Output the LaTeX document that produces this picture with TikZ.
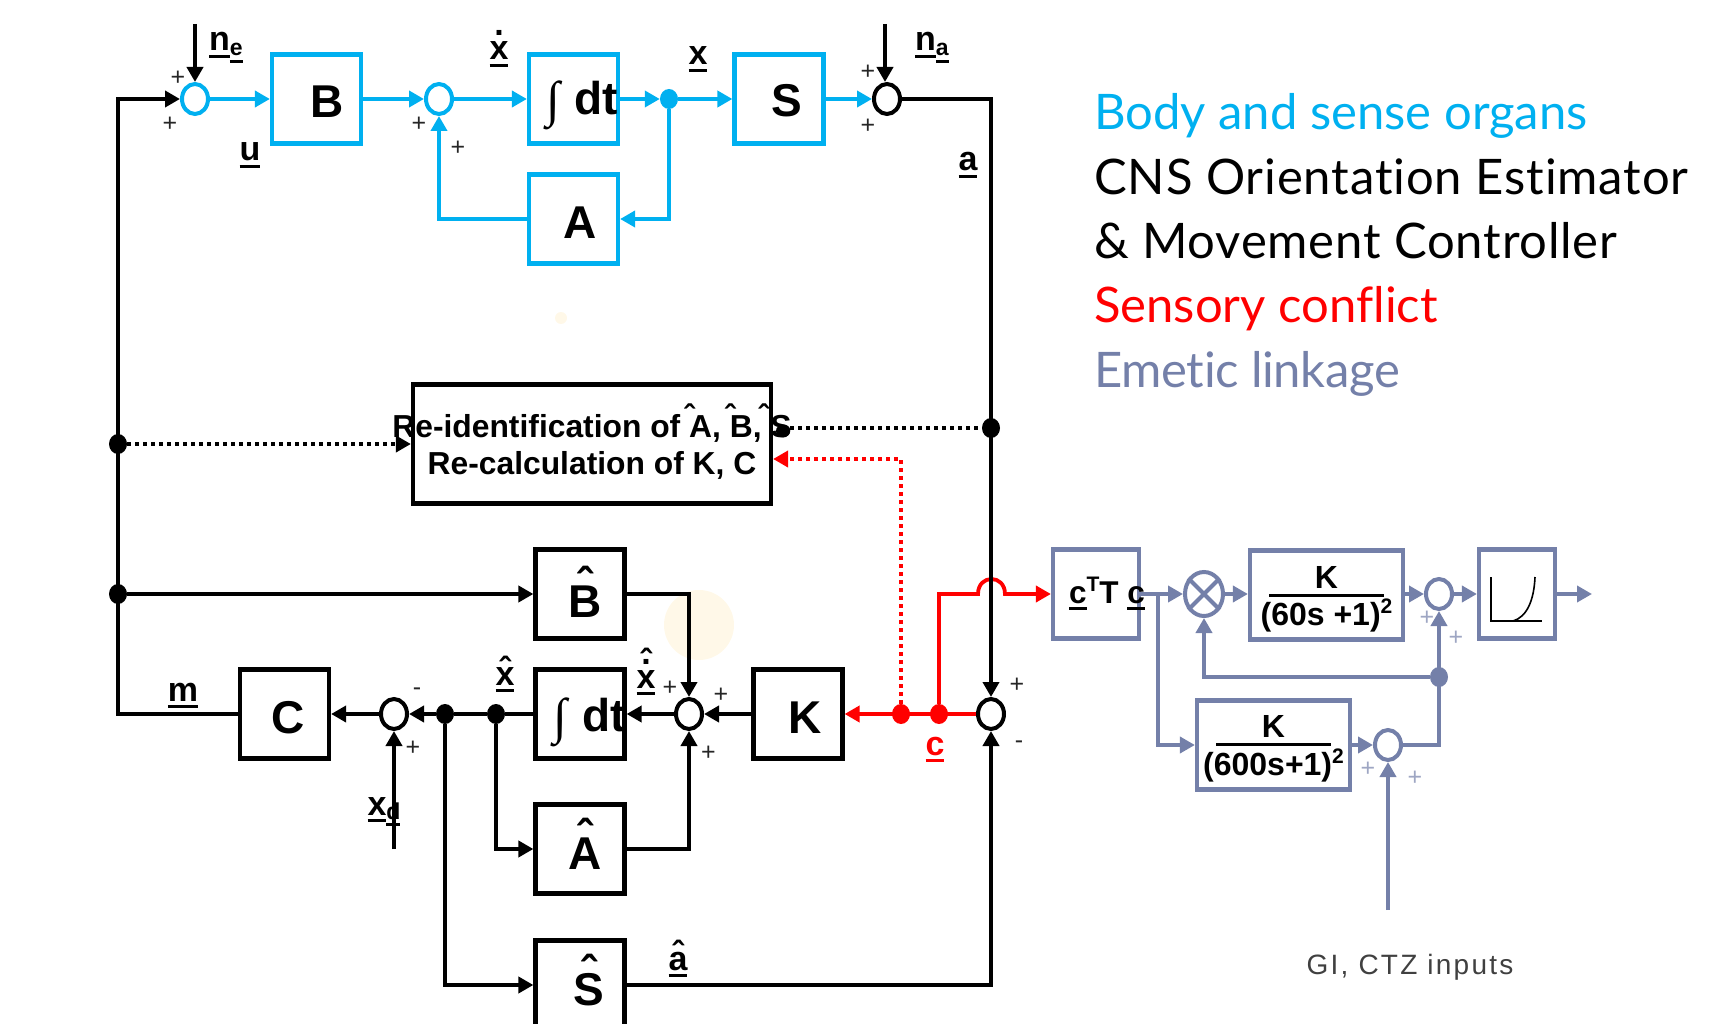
\documentclass[tikz,border=0pt]{standalone}
\usepackage{fontspec}
\setmainfont{Liberation Sans}
\newfontfamily\legendfont[Ligatures=NoCommon]{Lato}
\newfontfamily\intfont{Liberation Serif}
\usetikzlibrary{arrows.meta,shapes.geometric}
\definecolor{bodyblue}{HTML}{00B0F0}
\definecolor{emetic}{HTML}{7480A9}
\definecolor{conflict}{HTML}{FF0000}
\definecolor{faintgold}{HTML}{FFF8E8}
\newcommand{\fsz}[1]{\fontsize{#1}{#1}\selectfont}
% text inside a box: x shift, raise, content; takes no room
\newcommand{\inbox}[3]{\smash{\raisebox{#2}{\makebox[0pt][c]{\hspace*{#1}#3\hspace*{-#1}}}}}
% underlined text
\newcommand{\ulx}[1]{\setbox0=\hbox{#1}\rlap{\rule[-7pt]{\wd0}{3pt}}\box0 }
% mark over text: mark, raise, text
\newcommand{\overch}[3]{\setbox0=\hbox{#3}\rlap{\raisebox{#2}{\hbox to\wd0{\hss#1\hss}}}\box0 }
\newcommand{\hatch}{\char"02C6 }
% hat standing to the left of a letter: kern, letter
\newcommand{\lefthat}[2]{\kern-#1\rlap{\raisebox{10pt}{\hatch}}\kern#1 #2}
\newcommand{\intdt}{\llap{\mdseries\intfont\fsz{50}\raisebox{-2pt}{\char"222B}\hspace*{15pt}}dt}
\tikzset{
 boxbase/.style={draw,rectangle,inner sep=0pt,line width=4.2pt,minimum width=89pt,minimum height=89pt,font=\bfseries\fsz{46},text=black},
 bluebox/.style={boxbase,draw=bodyblue},
 blackbox/.style={boxbase,draw=black},
 graybox/.style={boxbase,draw=emetic},
 sumbase/.style={draw,ellipse,inner sep=0pt,line width=4pt,minimum width=26pt,minimum height=30pt},
 sumblue/.style={sumbase,draw=bodyblue},
 sumblack/.style={sumbase,draw=black},
 sumgray/.style={sumbase,draw=emetic},
 joint/.style={ellipse,inner sep=0pt,minimum width=18pt,minimum height=20pt},
 wire/.style={line width=3.8pt,line join=miter,-{Triangle[length=15pt,width=16pt]}},
 plain/.style={line width=3.8pt,line join=miter},
 sig/.style={anchor=base,inner sep=0pt,font=\bfseries\fsz{34}},
 plusmark/.style={inner sep=0pt,font=\fsz{25},text=black!85,yshift=-1pt},
 lightplus/.style={plusmark,text=emetic!70},
 legend/.style={anchor=base west,inner sep=0pt,font=\legendfont\fsz{49}},
}
\begin{document}
\begin{tikzpicture}[x=1pt,y=-1pt]
\useasboundingbox (0,0) rectangle (1735,1024);
\clip (0,0) rectangle (1735,1024);
% faint spots
\fill[faintgold] (699,625) circle (35pt);
\fill[faintgold] (561,318) circle (6pt);
% plant (blue)
\node[sumblue] (s1) at (195,99) {};
\node[bluebox] (B) at (316.5,99) {\inbox{10.5pt}{-19pt}{B}};
\node[sumblue] (s2) at (439,99) {};
\node[bluebox] (intg) at (573.5,99) {\inbox{23pt}{-16pt}{\intdt}};
\node[joint,fill=bodyblue] (jx) at (669,99) {};
\node[bluebox] (S) at (779,99) {\inbox{8pt}{-18pt}{S}};
\node[sumblack] (s3) at (887,99) {};
\node[bluebox] (A) at (573.5,219) {\inbox{6.5pt}{-20pt}{A}};
\coordinate (nefree) at (195,24);
\coordinate (nafree) at (885,24);
\coordinate (aCorner) at (991,99);
\coordinate (leftTop) at (118,99);
\coordinate (leftBot) at (118,714);
\coordinate (xA) at (669,219);
\coordinate (Ax) at (439,219);
% estimator row
\node[blackbox] (C) at (284.5,714) {\inbox{4pt}{-19pt}{C}};
\node[sumblack] (s4) at (394,714) {};
\node[joint,fill=black] (j445) at (445,714) {};
\node[joint,fill=black] (j496) at (496,714) {};
\node[blackbox] (inth) at (580,714) {\inbox{24pt}{-17pt}{\intdt}};
\node[sumblack] (s5) at (689,714) {};
\node[blackbox] (K) at (798,714) {\inbox{7pt}{-19pt}{K}};
\node[joint,fill=conflict] (j901) at (901,714) {};
\node[joint,fill=conflict] (j939) at (939,714) {};
\node[sumblack] (s6) at (991,714) {};
\node[blackbox] (Bh) at (580,594) {\inbox{5pt}{-23pt}{\overch{\hatch}{17pt}{B}}};
\node[blackbox] (Ah) at (580,849) {\inbox{5pt}{-20pt}{\overch{\hatch}{17pt}{A}}};
\node[blackbox] (Sh) at (580,985) {\inbox{9pt}{-20pt}{\overch{\hatch}{17pt}{S}}};
\node[joint,fill=black] (j444) at (118,444) {};
\node[joint,fill=black] (j594) at (118,594) {};
\node[joint,fill=black] (j428) at (991,428) {};
\node[joint,fill=black,minimum width=14pt,minimum height=13pt] (j783) at (783,431) {};
% re-identification
\node[draw,rectangle,inner sep=0pt,line width=4.2pt,minimum width=358pt,minimum height=119pt] (reid) at (592,444) {};
\node[inner sep=0pt,font=\bfseries\fsz{31.8}] (reidtext) at (592,444) {%
 \inbox{0pt}{7pt}{Re-identification of \lefthat{5pt}{A}, \lefthat{5pt}{B}, \lefthat{12pt}{S}}\inbox{0pt}{-30pt}{Re-calculation of K, C}};
\coordinate (rc) at (901,459);
\coordinate (xdfree) at (394,849);
\coordinate (c1) at (689,594);
\coordinate (c2) at (496,849);
\coordinate (c3) at (689,849);
\coordinate (c4) at (445,985);
\coordinate (c5) at (991,985);
\coordinate (hopA) at (978,594);
\coordinate (hopB) at (1005,594);
\coordinate (redCorner) at (939,594);
% emetic linkage
\node[graybox,minimum width=86pt] (cT) at (1096,594) {\fsz{31.5}\inbox{11pt}{-9pt}{\ulx{c}\raisebox{12pt}{\fsz{21}T}T \ulx{c}}};
\node[draw=emetic,ellipse,inner sep=0pt,line width=4pt,minimum width=38pt,minimum height=44pt] (ot) at (1204,594) {};
\node[graybox,minimum width=153pt,font=\bfseries\fsz{32}] (K60) at (1326.5,595) {%
 \inbox{0pt}{7pt}{K}\inbox{0pt}{-1.5pt}{\rule{115pt}{3pt}}\inbox{0pt}{-30pt}{(60s +1)\raisebox{12pt}{\fsz{21}2}}};
\node[sumgray] (s7) at (1439,594) {};
\node[graybox,minimum width=76pt] (final) at (1517,594) {};
\coordinate (outfree) at (1592,594);
\node[joint,fill=emetic] (j677) at (1439,677) {};
\node[graybox,minimum width=153pt,font=\bfseries\fsz{32}] (K600) at (1273.5,745) {%
 \inbox{0pt}{8pt}{K}\inbox{0pt}{-1pt}{\rule{115pt}{3pt}}\inbox{0pt}{-30pt}{(600s+1)\raisebox{12pt}{\fsz{21}2}}};
\node[sumgray] (s8) at (1388,745) {};
\coordinate (gifree) at (1388,910);
\coordinate (branch) at (1158,594);
\coordinate (b2) at (1158,745);
\coordinate (fb) at (1204,677);
\coordinate (c6) at (1439,745);
% blue connectors
\begin{scope}[draw=bodyblue,color=bodyblue]
\draw[wire] (s1.east) -- (B.west);
\draw[wire] (B.east) -- (s2.west);
\draw[wire] (s2.east) -- (intg.west);
\draw[wire] (intg.east) -- (jx.west);
\draw[wire] (jx.east) -- (S.west);
\draw[wire] (S.east) -- (s3.west);
\draw[wire] (jx.south) -- (xA) -- (A.east);
\draw[wire] (A.west) -- (Ax) -- (s2.south);
\end{scope}
% red connectors
\begin{scope}[color=conflict]
\draw[wire] (s6.west) -- (K.east);
\draw[wire] (j939.north) -- (redCorner) -- (hopA) .. controls (978,574) and (1005,574) .. (hopB) -- (cT.west);
\draw[wire,dash pattern=on 4pt off 4pt] (j901.north) -- (rc) -- (rc -| reid.east);
\end{scope}
% black connectors
\draw[wire] (nefree) -- (s1.north);
\draw[wire] (nafree) -- (nafree |- s3.north);
\draw[wire] (C.west) -- (leftBot) -- (leftTop) -- (s1.west);
\draw[wire] (s3.east) -- (aCorner) -- (s6.north);
\draw[wire,dash pattern=on 4pt off 4pt] (j444.east) -- (reid.west);
\draw[plain,dash pattern=on 4pt off 4pt] (j428.west -| j783.east) -- (j428.west);
\draw[wire] (j594) -- (Bh.west);
\draw[wire] (Bh.east) -- (c1) -- (s5.north);
\draw[wire] (K.west) -- (s5.east);
\draw[wire] (s5.west) -- (inth.east);
\draw[plain] (inth.west) -- (j496.east);
\draw[plain] (j496.west) -- (j445.east);
\draw[wire] (j445.west) -- (s4.east);
\draw[wire] (s4.west) -- (C.east);
\draw[wire] (xdfree) -- (s4.south);
\draw[wire] (j496.south) -- (c2) -- (Ah.west);
\draw[wire] (Ah.east) -- (c3) -- (s5.south);
\draw[wire] (j445.south) -- (c4) -- (Sh.west);
\draw[wire] (Sh.east) -- (c5) -- (s6.south);
% grey connectors
\begin{scope}[color=emetic]
\draw[wire] (cT.east) -- (ot.west);
\draw[wire] (ot.east) -- (K60.west |- ot.east);
\draw[wire] (K60.east |- s7.west) -- (s7.west);
\draw[wire] (s7.east) -- (final.west);
\draw[wire] (final.east) -- (outfree);
\draw[wire] (branch) -- (b2) -- (K600.west);
\draw[wire] (K600.east) -- (s8.west);
\draw[wire] (s8.east) -- (c6) -- (s7.south);
\draw[wire] (j677.west) -- (fb) -- (ot.south);
\draw[wire] (gifree) -- (s8.south);
\draw[line width=4pt] (ot.45) -- (ot.225) (ot.135) -- (ot.315);
\end{scope}
% curve in the last box
\draw[line width=1.6pt] (1491,577) -- (1491,621) -- (1542,621);
\draw[line width=1.6pt] (1513,621) .. controls (1527,617) and (1534,600) .. (1535,577);
% signal labels
\node[sig] (lne) at (226,51) {\ulx{n}\lower5pt\hbox{\fsz{23}\ulx{e}}};
\node[sig] (lna) at (932,51) {\ulx{n}\lower5pt\hbox{\fsz{23}\ulx{a}}};
\node[sig] (lxd) at (499,60) {\overch{.}{24pt}{\ulx{x}}};
\node[sig] (lu) at (250,161) {\ulx{u}};
\node[sig] (lx) at (698,65) {\ulx{x}};
\node[sig] (la) at (968,171) {\ulx{a}};
\node[sig] (lm) at (183,701) {\ulx{m}};
\node[sig] (lxh) at (505,685) {\overch{\hatch}{4pt}{\ulx{x}}};
\node[sig] (lxhd) at (646,688) {\overch{\hatch}{15pt}{\overch{.}{24pt}{\ulx{x}}}};
\node[sig] (lxdes) at (384,815) {\ulx{x}\lower4pt\hbox{\fsz{23}\ulx{d}}};
\node[sig] (lc) at (935,755) {\color{conflict}\ulx{c}};
\node[sig] (lah) at (678,970) {\overch{\hatch}{5pt}{\ulx{a}}};
% plus and minus marks
\node[plusmark] (p1) at (178,77) {+};
\node[plusmark] (p2) at (170,123) {+};
\node[plusmark] (p3) at (419,123) {+};
\node[plusmark] (p4) at (458,147) {+};
\node[plusmark] (p5) at (868,71) {+};
\node[plusmark] (p6) at (868,125) {+};
\node[plusmark] (p7) at (417,691) {-};
\node[plusmark] (p8) at (413,747) {+};
\node[plusmark] (p9) at (670,687) {+};
\node[plusmark] (p10) at (721,694) {+};
\node[plusmark] (p11) at (708.5,752) {+};
\node[plusmark] (p12) at (1017,684) {+};
\node[plusmark] (p13) at (1019,744) {-};
\node[lightplus] (p14) at (1427,617) {+};
\node[lightplus] (p15) at (1456,637) {+};
\node[lightplus] (p16) at (1368,768) {+};
\node[lightplus] (p17) at (1415,777) {+};
% legend
\node[legend,text=bodyblue] (t1) at (1094,130) {Body and sense organs};
\node[legend] (t2) at (1094,195) {\addfontfeature{LetterSpace=1.8}CNS Orientation Estimator};
\node[legend] (t3) at (1094,259) {\addfontfeature{LetterSpace=1.6}\& Movement Controller};
\node[legend,text=conflict] (t4) at (1094,323) {Sensory conflict};
\node[legend,text=emetic] (t5) at (1094,387) {\addfontfeature{LetterSpace=-0.7}Emetic linkage};
\node[inner sep=0pt,text=black!75,font=\fsz{28}] (gi) at (1410,967) {\addfontfeature{LetterSpace=8}GI, CTZ inputs};
\end{tikzpicture}
\end{document}
